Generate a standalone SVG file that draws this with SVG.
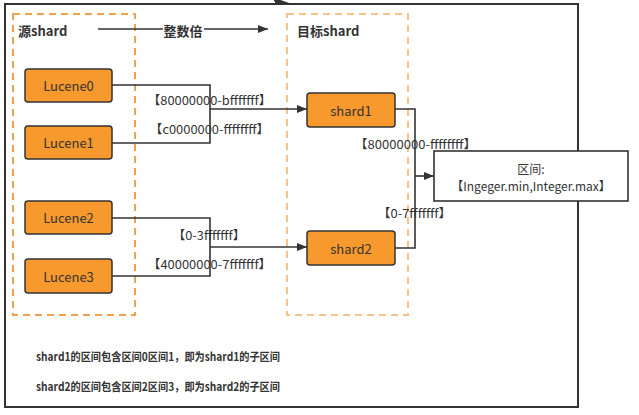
<svg xmlns="http://www.w3.org/2000/svg" width="639" height="415" viewBox="0 0 639 415">
<style>
text{font-family:"Noto Sans CJK SC","Open Sans","Liberation Sans",sans-serif;fill:#333}
.node rect{fill:#f7992c;stroke:#333;stroke-width:1.5}
.node text{font-size:13px;text-anchor:middle;dominant-baseline:central}
.lbl{font-size:12px;text-anchor:middle;dominant-baseline:central}
.title{font-size:13px;font-weight:bold;dominant-baseline:central}
.note{font-size:11.5px;font-weight:bold;dominant-baseline:central}
.conn{fill:none;stroke:#333;stroke-width:1.6}
</style>
<defs>
<marker id="ah" markerWidth="10" markerHeight="8" refX="10" refY="4" orient="auto" markerUnits="userSpaceOnUse">
<path d="M0,0 L10,4 L0,8 Z" fill="#333"/>
</marker>
</defs>
<rect width="639" height="415" fill="#fff"/>
<rect id="frame" x="5" y="4" width="573" height="403" fill="none" stroke="#333" stroke-width="2"/>
<path d="M272,-3 L292,4 L276,4 Z" fill="#333"/>
<g id="src-group">
<rect x="13" y="14" width="122" height="301" fill="none" stroke="#f0a050" stroke-width="2" stroke-dasharray="7,5"/>
<text class="title" x="18" y="30">源shard</text>
</g>
<g id="dst-group">
<rect x="287" y="14" width="121" height="301" fill="none" stroke="#f5c48a" stroke-width="2" stroke-dasharray="7,5"/>
<text class="title" x="297" y="30">目标shard</text>
</g>
<g id="connectors">
<path class="conn" d="M98,29 H268" marker-end="url(#ah)"/>
<rect x="163" y="21" width="41" height="17" fill="#fff"/>
<text class="title" x="183" y="30" text-anchor="middle">整数倍</text>
<path class="conn" d="M112,85 H210 V143 H112"/>
<path class="conn" d="M210,109 H307" marker-end="url(#ah)"/>
<path class="conn" d="M112,218 H210 V276 H112"/>
<path class="conn" d="M210,247 H307" marker-end="url(#ah)"/>
<path class="conn" d="M395,109 H415 V248 H395"/>
<path class="conn" d="M415,176 H434" marker-end="url(#ah)"/>
<text class="lbl" x="209.5" y="99" textLength="124" lengthAdjust="spacingAndGlyphs">【80000000-bfffffff】</text>
<text class="lbl" x="209.5" y="128" textLength="120" lengthAdjust="spacingAndGlyphs">【c0000000-ffffffff】</text>
<text class="lbl" x="209" y="234" textLength="73" lengthAdjust="spacingAndGlyphs">【0-3fffffff】</text>
<text class="lbl" x="209.5" y="263" textLength="124" lengthAdjust="spacingAndGlyphs">【40000000-7fffffff】</text>
<text class="lbl" x="415.5" y="143" textLength="122" lengthAdjust="spacingAndGlyphs">【80000000-ffffffff】</text>
<text class="lbl" x="414.5" y="212" textLength="74" lengthAdjust="spacingAndGlyphs">【0-7fffffff】</text>
</g>
<g id="lucene0" class="node"><rect x="25" y="69" width="87" height="33" rx="3"/><text x="68.5" y="85.5">Lucene0</text></g>
<g id="lucene1" class="node"><rect x="25" y="126" width="87" height="33" rx="3"/><text x="68.5" y="142.5">Lucene1</text></g>
<g id="lucene2" class="node"><rect x="25" y="201" width="87" height="33" rx="3"/><text x="68.5" y="217.5">Lucene2</text></g>
<g id="lucene3" class="node"><rect x="25" y="259" width="87" height="34" rx="3"/><text x="68.5" y="276">Lucene3</text></g>
<g id="shard1" class="node"><rect x="307" y="93" width="88" height="34" rx="3"/><text x="351" y="110">shard1</text></g>
<g id="shard2" class="node"><rect x="307" y="231" width="88" height="34" rx="3"/><text x="351" y="248">shard2</text></g>
<g id="range">
<rect x="434" y="151" width="194" height="50" fill="#fff" stroke="#333" stroke-width="1.6"/>
<text class="lbl" x="531" y="168">区间:</text>
<text class="lbl" x="531" y="185">【Ingeger.min,Integer.max】</text>
</g>
<g id="notes">
<text class="note" x="36" y="356" textLength="244" lengthAdjust="spacingAndGlyphs">shard1的区间包含区间0区间1，即为shard1的子区间</text>
<text class="note" x="36" y="386" textLength="244" lengthAdjust="spacingAndGlyphs">shard2的区间包含区间2区间3，即为shard2的子区间</text>
</g>
</svg>
